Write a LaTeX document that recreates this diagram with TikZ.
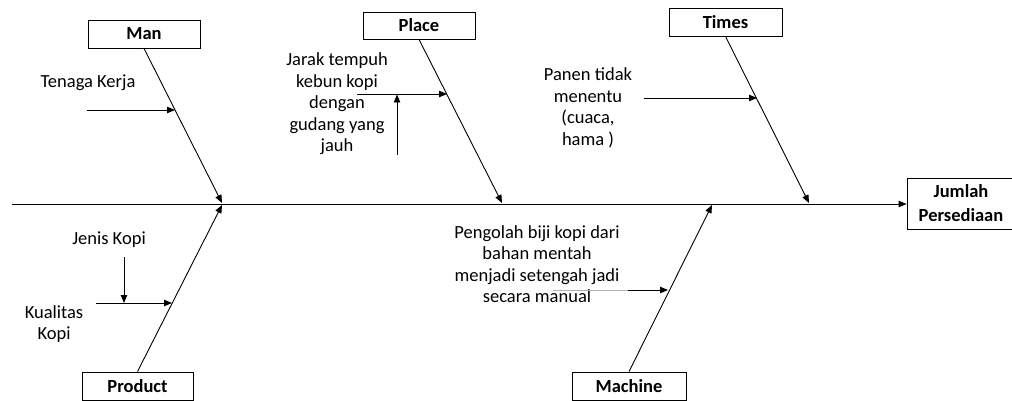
\documentclass[tikz,border=0pt]{standalone}
\usepackage{fontspec}
\setmainfont{Carlito}
\usetikzlibrary{arrows.meta,calc}
\begin{document}
\begin{tikzpicture}[x=1pt,y=-1pt,
  catbox/.style={draw,line width=0.9pt,inner sep=0pt,font=\fontsize{18.5}{24}\selectfont\bfseries,align=center},
  lbl/.style={inner sep=0pt,align=center,font=\fontsize{18.5}{21.5}\selectfont},
  bone/.style={line width=0.9pt,-{Triangle[length=8pt,width=6.5pt]}},
  sub/.style={line width=0.9pt,-{Triangle[length=8pt,width=6.5pt]}}]
\useasboundingbox (0,0) rectangle (1012,401);
% category boxes
\node[catbox,minimum width=112pt,minimum height=28pt] (man) at (144,34) {Man};
\node[catbox,minimum width=112pt,minimum height=27pt] (place) at (419,25.5) {Place};
\node[catbox,minimum width=113pt,minimum height=28pt] (times) at (725.5,22) {Times};
\node[catbox,minimum width=111pt,minimum height=28pt] (product) at (137.5,386) {Product};
\node[catbox,minimum width=114pt,minimum height=28pt] (machine) at (629,386) {Machine};
\node[catbox,minimum width=108pt,minimum height=51pt] (effect) at (961,203.5) {Jumlah\\Persediaan};
% spine
\coordinate (tail) at (12,204);
\draw[bone] (tail) -- (effect.west |- tail);
% bone end points on spine
\coordinate (mE) at (222,203);
\coordinate (pE) at (502,203);
\coordinate (tE) at (809,203);
\coordinate (prE) at (222,205);
\coordinate (maE) at (712,205);
\draw[bone] (man.south) -- (mE);
\draw[bone] (place.south) -- (pE);
\draw[bone] (times.south) -- (tE);
\draw[bone] (product.north) -- (prE);
\draw[bone] (machine.north) -- (maE);
% labels
\node[lbl] (tk) at (88,83) {Tenaga Kerja};
\node[lbl] (jarak) at (337,104) {Jarak tempuh\\kebun kopi\\dengan\\gudang yang\\jauh};
\node[lbl] (panen) at (588,108) {Panen tidak\\menentu\\(cuaca,\\hama )};
\node[lbl] (jenis) at (109,240) {Jenis Kopi};
\node[lbl] (kualitas) at (54,324) {Kualitas\\Kopi};
\node[lbl] (olah) at (537,264) {Pengolah biji kopi dari\\bahan mentah\\menjadi setengah jadi\\secara manual};
% sub-cause arrows
\coordinate (tkS) at (87,110);
\coordinate (tkE) at (175,110);
\draw[sub] (tkS) -- (tkE);
\coordinate (jS) at (357,94);
\coordinate (jE) at (447,94);
\draw[sub] (jS) -- (jE);
\coordinate (jvS) at (397,155);
\coordinate (jvE) at (397,94.5);
\draw[sub] (jvS) -- (jvE);
\coordinate (pS) at (644,98);
\coordinate (pEnd) at (757,98);
\draw[sub] (pS) -- (pEnd);
\coordinate (jkS) at (124,257);
\coordinate (jkE) at (124,303);
\draw[sub] (jkS) -- (jkE);
\coordinate (kS) at (96,303);
\coordinate (kE) at (172,303);
\draw[sub] (kS) -- (kE);
\coordinate (oS) at (553,290);
\coordinate (oM) at (628,290);
\coordinate (oE) at (668,290);
\draw[line width=0.6pt,black!30] (oS) -- (oM);
\draw[sub] (oM) -- (oE);
\end{tikzpicture}
\end{document}
